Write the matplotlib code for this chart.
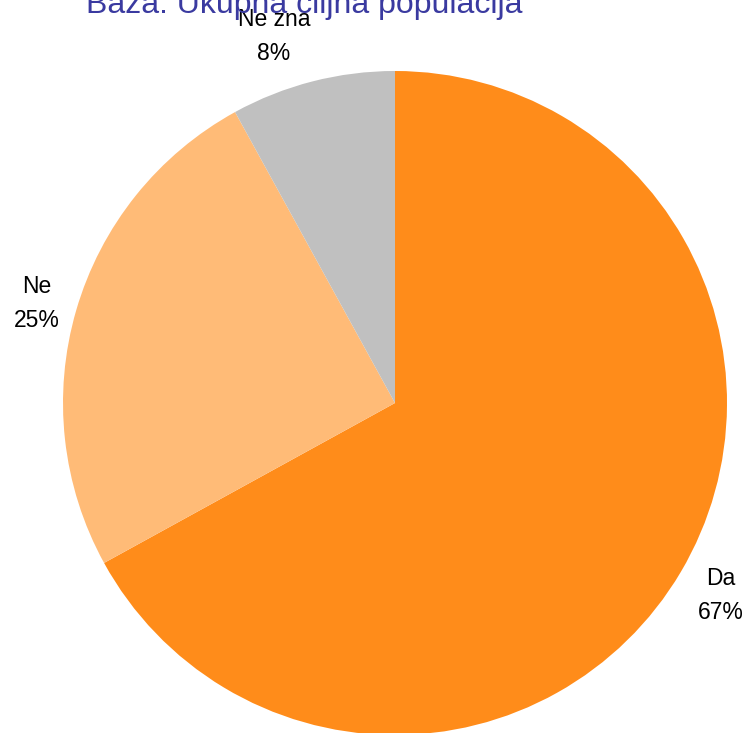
import matplotlib.pyplot as plt

plt.rcParams['font.family'] = ['Liberation Sans', 'DejaVu Sans']

# data
categories = ['Da', 'Ne', 'Ne zna']
values = [67, 25, 8]
colors = ['#FF8C1A', '#FFBB77', '#C0C0C0']
labels = [f"{c}\n{v}%" for c, v in zip(categories, values)]
# label centres (pie units), as placed in the original
label_pos = [(0.98, -0.58), (-1.08, 0.30), (-0.365, 1.105)]

fig = plt.figure(figsize=(7.47, 7.33), dpi=100)
ax = fig.add_axes([63 / 747, -2 / 733, 664 / 747, 664 / 733])

wedges, texts = ax.pie(values, labels=labels, colors=colors, startangle=90,
                       counterclock=False, labeldistance=1.14,
                       textprops={'fontsize': 16.5, 'color': 'black',
                                  'ha': 'center', 'va': 'center',
                                  'linespacing': 1.6})
for t, p in zip(texts, label_pos):
    t.set_horizontalalignment('center')
    t.set_position(p)
ax.set_xlim(-1, 1)
ax.set_ylim(-1, 1)
ax.set_aspect('equal')

# title, partly cut off at the top
fig.text(304 / 747, 1 - 13 / 733, 'Baza: Ukupna ciljna populacija',
         ha='center', va='baseline', fontsize=23, color='#3A3AA0')

fig.savefig('out.png', dpi=100)
